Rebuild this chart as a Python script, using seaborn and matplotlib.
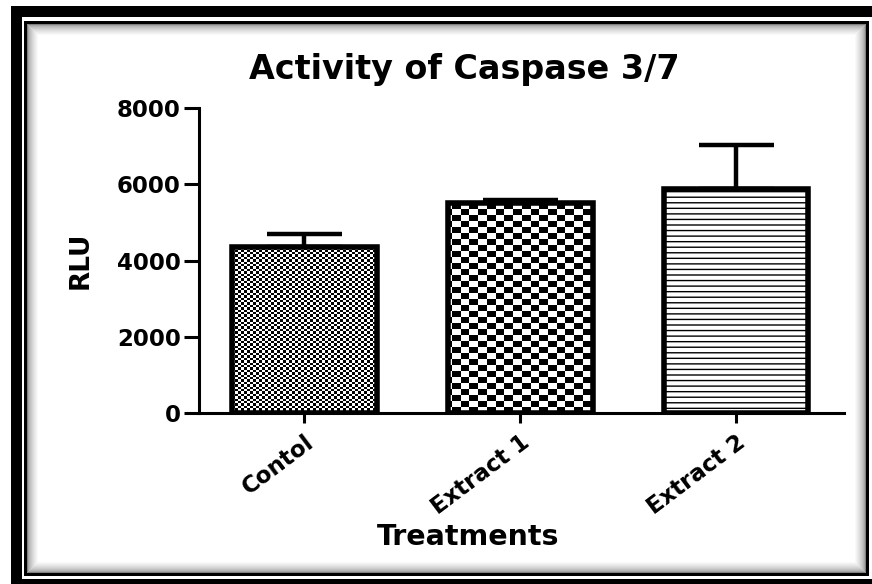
import numpy as np
import pandas as pd
import matplotlib
matplotlib.use("Agg")
import matplotlib.pyplot as plt
import seaborn as sns
from matplotlib.patches import Rectangle

# ===========================
# DATA
# ===========================
treatments = ["Contol", "Extract 1", "Extract 2"]
rlu_mean = [4350, 5500, 5870]
rlu_sem = [340, 80, 1160]
y_ticks = [0, 2000, 4000, 6000, 8000]

W, H = 872, 584

sns.set_theme(style="ticks")
plt.rcParams["font.family"] = ["DejaVu Sans"]
plt.rcParams["font.weight"] = "bold"
plt.rcParams["hatch.linewidth"] = 1.0
plt.rcParams["hatch.color"] = "black"
for key in ["text.color", "axes.labelcolor", "xtick.color", "ytick.color", "axes.edgecolor"]:
    plt.rcParams[key] = "black"

fig = plt.figure(figsize=(W / 100, H / 100), dpi=100)
fig.patch.set_facecolor("white")
ax = fig.add_axes([199 / W, 1 - 413 / H, (844 - 199) / W, (413 - 108) / H])

# ===========================
# BARS + ERROR BARS
# ===========================
df = pd.DataFrame({"Treatment": treatments, "RLU": rlu_mean})
sns.barplot(data=df, x="Treatment", y="RLU", color="white", edgecolor="black",
            linewidth=4, width=0.67, errorbar=None, ax=ax, zorder=2)

ax.errorbar(np.arange(len(treatments)), rlu_mean,
            yerr=[np.zeros(len(rlu_sem)), rlu_sem],
            fmt="none", ecolor="black", elinewidth=3.2, capsize=27, capthick=3.2, zorder=1)

ax.set_xlim(-0.488, 2.5)
ax.set_ylim(0, 8000)
xl, yl = ax.get_xlim(), ax.get_ylim()

# fill textures: fine checker, coarse checker, horizontal lines
def checker(nx, ny):
    return (np.add.outer(np.arange(ny), np.arange(nx)) % 2).astype(float)

textures = [checker(215, 127), checker(74, 51)]
bars = ax.patches[:len(treatments)]
for bar, tex in zip(bars[:2], textures):
    im = ax.imshow(tex, cmap="gray_r", extent=(*xl, *yl), aspect="auto",
                   interpolation="nearest", zorder=1.5, vmin=0, vmax=1)
    im.set_clip_path(bar)
    bar.set_facecolor("none")
bars[2].set_hatch("---")
ax.set_xlim(*xl)
ax.set_ylim(*yl)

# ===========================
# AXES STYLE
# ===========================
sns.despine(ax=ax)
for s in ["left", "bottom"]:
    ax.spines[s].set_linewidth(2.2)
ax.set_yticks(y_ticks)
ax.tick_params(axis="y", length=11, width=2.2, pad=2, labelsize=16.5)
ax.tick_params(axis="x", length=7, width=2.2, pad=6, labelsize=16.5)
for lab in ax.get_xticklabels():
    lab.set_rotation(37)
    lab.set_ha("right")
    lab.set_rotation_mode("anchor")
    lab.set_fontweight("bold")
for lab in ax.get_yticklabels():
    lab.set_fontweight("bold")

ax.set_title("Activity of Caspase 3/7", fontsize=24, fontweight="bold",
             x=0.412, y=1.095, va="baseline", pad=0)
ax.set_xlabel("Treatments", fontsize=20.5, fontweight="bold")
ax.xaxis.set_label_coords(0.417, -0.36)
ax.set_ylabel("RLU", fontsize=19, fontweight="bold")
ax.yaxis.set_label_coords(-0.164, 0.50)

# ===========================
# PICTURE FRAME
# ===========================
def frame(x0, y0, x1, y1, lw_px, color):
    r = Rectangle((x0 / W, 1 - y1 / H), (x1 - x0) / W, (y1 - y0) / H,
                  transform=fig.transFigure, fill=False, edgecolor=color,
                  linewidth=lw_px * 0.72, joinstyle="miter")
    fig.add_artist(r)

frame(16, 11, 880, 584, 11, "black")
frame(24.5, 21.5, 866.5, 573.5, 3, "black")
for k in range(12):
    g = 0.5 + 0.5 * (k / 11) ** 0.5
    frame(26.5 + k, 23.5 + k, 864.5 - k, 571.5 - k, 1, str(min(g, 1.0)))

fig.savefig("out.png", dpi=100, facecolor="white")
